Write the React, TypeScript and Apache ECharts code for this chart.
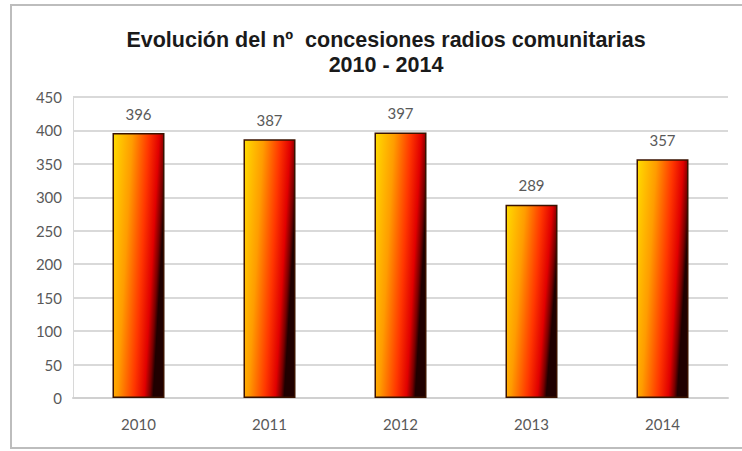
import React, { useEffect, useRef } from "react";
import * as echarts from "echarts";

const categories = ["2010", "2011", "2012", "2013", "2014"];
const values = [396, 387, 397, 289, 357];
const titleLines = ["Evolución del nº  concesiones radios comunitarias", "2010 - 2014"];

export default function App() {
  const ref = useRef<HTMLDivElement>(null);
  useEffect(() => {
    if (!ref.current) return;
    const chart = echarts.init(ref.current, undefined, { renderer: "svg" });
    const labelFont = "Lato, 'Open Sans', sans-serif";
    chart.setOption({
      animation: false,
      backgroundColor: "#ffffff",
      title: {
        text: titleLines.join("\n"),
        left: 381,
        textAlign: "center",
        top: 22,
        textStyle: {
          fontFamily: "'Liberation Sans', Arial, sans-serif",
          fontWeight: "bold",
          fontSize: 21.5,
          lineHeight: 25,
          color: "#1a1a1a",
        },
      },
      graphic: [
        {
          type: "rect",
          shape: { x: 11, y: 5, width: 800, height: 443 },
          style: { fill: "none", stroke: "#bdbdbd", lineWidth: 2 },
          silent: true,
          z: 0,
        },
      ],
      grid: { left: 73, right: 14, top: 97, bottom: 53 },
      xAxis: {
        type: "category",
        data: categories,
        axisLine: { show: true, lineStyle: { color: "#d0d0d0", width: 2 } },
        axisTick: { show: false },
        axisLabel: { color: "#595959", fontSize: 15, fontFamily: labelFont, margin: 18 },
      },
      yAxis: {
        type: "value",
        min: 0,
        max: 450,
        interval: 50,
        axisLine: { show: true, lineStyle: { color: "#d8d8d8", width: 1 } },
        axisTick: { show: false },
        axisLabel: { color: "#595959", fontSize: 15, fontFamily: labelFont, margin: 11 },
        splitLine: { lineStyle: { color: "#d9d9d9", width: 2 } },
      },
      series: [
        {
          type: "bar",
          data: values,
          barWidth: 52,
          itemStyle: {
            color: new echarts.graphic.LinearGradient(0, 0, 1, 0.3, [
              { offset: 0, color: "#ffdc00" },
              { offset: 0.35, color: "#ff9c00" },
              { offset: 0.65, color: "#ff3600" },
              { offset: 0.84, color: "#e00000" },
              { offset: 0.94, color: "#780000" },
              { offset: 1, color: "#200000" },
            ]),
            borderColor: "#3a1200",
            borderWidth: 1.5,
          },
          label: {
            show: true,
            position: "top",
            distance: 12,
            color: "#595959",
            fontSize: 15,
            fontFamily: labelFont,
          },
        },
      ],
    });
    return () => chart.dispose();
  }, []);
  return (
    <div
      ref={ref}
      style={{ position: "fixed", left: 0, top: 0, width: 742, height: 451 }}
    />
  );
}
